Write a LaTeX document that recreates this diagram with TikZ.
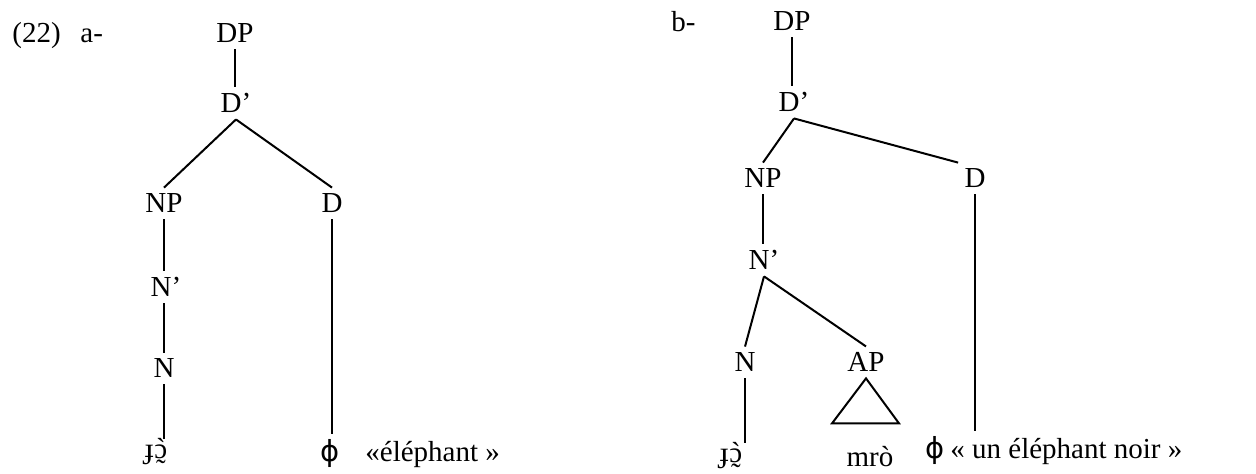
\documentclass[tikz,border=0pt]{standalone}
\usepackage{fontspec}
\setmainfont{Liberation Serif}
\newfontfamily\accfont[Ligatures=TeXOff]{Liberation Serif}
\newfontfamily\phifont{DejaVu Sans}
\newcommand{\jowd}{ɟ{\ooalign{ɔ\cr\hidewidth{\accfont\char"60}\hidewidth\cr\hidewidth\raisebox{-0.7em}{\char"02DC}\hidewidth\cr}}}
\newcommand{\zerod}{{\phifont ɸ}}
\tikzset{
  cat/.style={anchor=base, inner sep=3pt, font=\fontsize{14.5}{17}\selectfont},
  edge/.style={line width=1pt}
}
\begin{document}
\begin{tikzpicture}[x=0.5pt,y=-0.5pt]
  \useasboundingbox (0,0) rectangle (1256,474);
  % tree a
  \node[cat, anchor=base west] (exnum) at (6,43) {(22)};
  \node[cat, anchor=base west] (laba) at (74,43) {a-};
  \node[cat] (dpa) at (235,43) {DP};
  \node[cat] (dbara) at (236,113) {D'};
  \node[cat] (npa) at (164,213) {NP};
  \node[cat] (da) at (332,213) {D};
  \node[cat] (nbara) at (166,297) {N'};
  \node[cat] (na) at (164,378) {N};
  \node[cat] (worda) at (156,459) {\jowd};
  \node[cat] (phia) at (330,462) {\zerod};
  \node[cat, anchor=base west] (glossa) at (359,462) {«éléphant »};
  \draw[edge] (dpa.south) -- (dpa.south |- dbara.north);
  \draw[edge] (dbara.south) -- (npa.north);
  \draw[edge] (dbara.south) -- (da.north);
  \draw[edge] (npa.south) -- (npa.south |- nbara.north);
  \draw[edge] (nbara.south -| npa.south) -- (npa.south |- na.north);
  \draw[edge] (na.south) -- (na.south |- worda.north);
  \draw[edge] (da.south) -- (da.south |- phia.north);
  % tree b
  \node[cat, anchor=base west] (labb) at (665,32) {b-};
  \node[cat] (dpb) at (792,31) {DP};
  \node[cat] (dbarb) at (794,112) {D'};
  \node[cat] (npb) at (763,188) {NP};
  \node[cat] (db) at (975,188) {D};
  \node[cat] (nbarb) at (764,270) {N'};
  \node[cat] (nb) at (745,372) {N};
  \node[cat] (apb) at (866,372) {AP};
  \node[cat] (wordb) at (731,463) {\jowd};
  \node[cat] (mrob) at (870,467) {mrò};
  \node[cat] (phib) at (935,459) {\zerod};
  \node[cat, anchor=base west] (glossb) at (944,459) {« un éléphant noir »};
  \draw[edge] (dpb.south) -- (dpb.south |- dbarb.north);
  \draw[edge] (dbarb.south) -- (npb.north);
  \draw[edge] (dbarb.south) -- (db.north west);
  \draw[edge] (npb.south) -- (npb.south |- nbarb.north);
  \draw[edge] (nbarb.south) -- (nb.north);
  \draw[edge] (nbarb.south) -- (apb.north);
  \draw[edge] (nb.south) -- (nb.south |- wordb.north);
  \draw[edge] (db.south) -- (db.south |- phib.north);
  \draw[edge] (apb.south) -- ++(-34,45) -- ++(67,0) -- cycle;
\end{tikzpicture}
\end{document}
